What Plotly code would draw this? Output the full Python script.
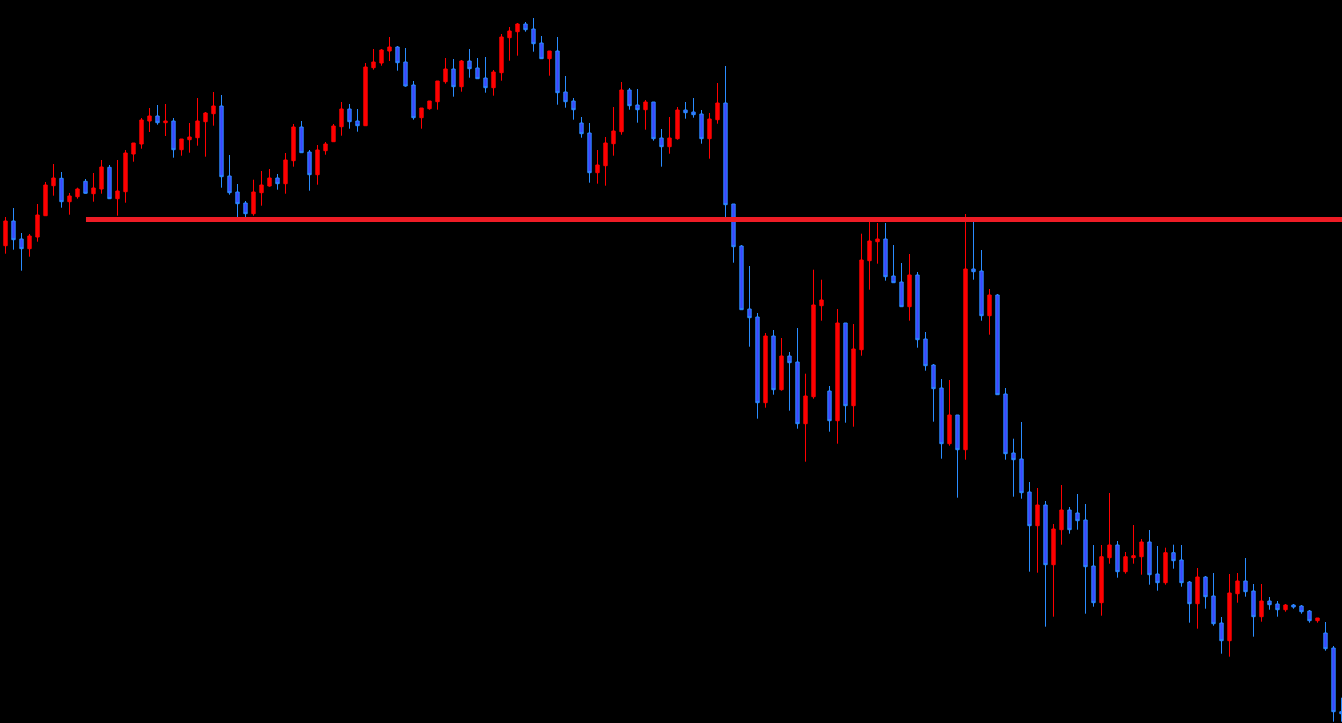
import plotly.graph_objects as go

# OHLC values (index = bar number)
opens = [754.3, 779, 761, 751.3, 763, 784.3, 814.3, 821.7, 798.3, 803.3,
         818.7, 806.3, 811, 832.7, 801.3, 808.3, 846, 856, 879, 884,
         877.3, 879, 850.3, 860.3, 862.3, 878.3, 886.3, 894, 824, 808,
         797, 786.3, 807.3, 814, 822, 816.3, 839.3, 873, 848, 825.3,
         849.3, 858.3, 873.3, 891, 879, 874.3, 932.3, 937, 949, 953,
         938, 915, 882.3, 891.3, 898.3, 918.3, 931, 913.3, 939, 932,
         922, 912.3, 927.3, 962.3, 968.3, 976, 971, 957, 941.3, 949,
         908, 899, 877, 867, 827.3, 834.3, 856.3, 868.3, 910, 895,
         890.3, 898, 862, 853.3, 861.3, 890, 888, 886, 861.3, 880.3,
         897, 796, 754, 691, 683, 597.3, 664, 610.3, 644, 638,
         576.3, 603.3, 694.3, 609, 579.3, 677, 594.3, 650.3, 739.3, 758.3,
         761, 724, 718, 693.3, 725, 661, 635, 612, 556.3, 585,
         550.3, 731, 729, 684.3, 705, 606, 547, 541, 508, 474.3,
         495, 435.3, 470.3, 490, 487, 480, 434, 397.3, 442.3, 455,
         428.3, 442.3, 443.3, 458, 426, 417.3, 447.3, 440, 418, 396.3,
         423, 404, 377, 359.3, 406.3, 419, 409, 383.3, 399, 396,
         390.3, 395, 394, 389, 379.3, 367, 352, 288.3]
highs = [783, 792, 767, 766, 796, 818, 836, 828, 807, 812.3,
         821, 827, 840, 835, 840, 850, 857, 882, 892, 895,
         896, 882, 861, 877, 902, 888, 908, 905, 845, 816,
         799, 820.3, 829, 831, 826, 847, 876, 879, 850, 855,
         858, 876, 898, 896, 891, 937, 951, 951, 963, 954,
         952, 919, 892, 899, 919, 942, 941, 940, 951, 942,
         943, 930, 966, 973, 977, 978, 982, 964, 949, 963,
         924, 902, 883, 877, 850, 863, 893, 918, 912, 911,
         900, 898, 871, 883, 893, 898, 902, 890, 887, 917,
         934, 796, 755, 734, 687, 667, 670, 662, 648, 672,
         626.3, 730.3, 720.3, 614, 691, 677, 676, 766.3, 778, 777,
         777, 755, 737, 746, 728, 668, 636, 621, 620, 585,
         786, 778, 750, 711, 706, 612, 561.3, 578, 518, 512,
         499, 476, 515, 493, 506, 496, 455, 455, 507, 459,
         448, 475, 461, 470, 454, 452.3, 455.3, 455, 419, 432,
         424, 427, 383, 426, 427, 442, 416, 416, 403, 399,
         396, 396, 395, 390, 382, 378, 354, 302.3]
lows = [746.3, 750.3, 729.3, 743.3, 758.3, 784.3, 804.3, 792.3, 785.3, 801.3,
        806.3, 798.3, 806.3, 801.3, 784.3, 797.3, 838.3, 851.3, 868, 875.3,
        864, 842.3, 844.3, 847.3, 854.3, 843.3, 874.3, 812.3, 805.3, 783,
        783, 784.3, 794.3, 813.3, 810.3, 806.3, 833.3, 847.3, 809.3, 815.3,
        845.3, 858.3, 864.3, 871.3, 868.3, 874.3, 930.3, 934.3, 939, 929.3,
        913.3, 880.3, 871.3, 890.3, 890.3, 916.3, 903.3, 908.3, 922.3, 921.3,
        907.3, 904.3, 919.3, 939.3, 944.3, 968.3, 948.3, 941.3, 924.3, 895.3,
        892.3, 880.3, 862.3, 817.3, 816.3, 814.3, 844.3, 865.3, 890.3, 877.3,
        870.3, 859.3, 833.3, 846.3, 860.3, 881.3, 882.3, 856.3, 841.3, 876.3,
        783, 737.3, 690.3, 653.3, 581.3, 592.3, 605.3, 609.3, 589.3, 571.3,
        538.3, 601.3, 679.3, 568.3, 556.3, 577.3, 573.3, 644.3, 710.3, 736.3,
        719.3, 717.3, 693.3, 679.3, 652.3, 629.3, 578.3, 541.3, 554.3, 502.3,
        540.3, 720.3, 679.3, 665.3, 605.3, 540.3, 503.3, 501.3, 428.3, 427.3,
        373.3, 383.3, 455.3, 466.3, 470.3, 386.3, 393.3, 384.3, 436.3, 422.3,
        426.3, 436.3, 425.3, 415.3, 409.3, 415.3, 431.3, 413.3, 377.3, 371.3,
        391.3, 374.3, 346.3, 343.3, 397.3, 403.3, 363.3, 378.3, 390.3, 383.3,
        388.3, 391.3, 386.3, 377.3, 377.3, 349.3, 278.3, 278.3]
closes = [779, 760.3, 751.3, 764, 785, 815, 822, 798.3, 804, 811,
          806.7, 812, 833, 801.3, 809, 847, 857, 880, 884, 877.3,
          879, 850.3, 861, 863, 879, 887, 894, 823.3, 807.3, 796.3,
          786.3, 808, 815, 822, 816.3, 840, 873, 847.3, 825.3, 850,
          856, 874, 891, 878.3, 874.3, 933, 938, 950, 953, 937.3,
          914, 882.3, 892, 899, 919, 931, 913.3, 939, 931.3, 921.3,
          912.3, 928, 963, 969, 976, 970.3, 956.3, 941.3, 949, 907.3,
          898.3, 890.3, 866.3, 827.3, 835, 857, 869, 910, 894.3, 890.3,
          898, 861.3, 853.3, 862, 890, 887.3, 885.3, 861.3, 881, 897,
          795.3, 753.3, 690.3, 682.3, 597.3, 664, 610.3, 644, 637.3, 576.3,
          604, 695, 700, 579.3, 677, 594.3, 651, 740, 759, 761,
          723.3, 717.3, 693.3, 725, 660.3, 634.3, 611.3, 556.3, 585, 550.3,
          731, 728.3, 684.3, 705, 605.3, 546.3, 540.3, 507.3, 474.3, 495,
          435.3, 471, 490, 470.3, 479.3, 433.3, 397.3, 443.3, 455, 428.3,
          443.3, 444.3, 458, 425.3, 417.3, 447.3, 439.3, 417.3, 396.3, 423,
          403.3, 376.3, 359.3, 407, 419, 408.3, 383.3, 399, 395.3, 390.3,
          395, 393, 388.3, 379.3, 382, 351.3, 288.3, 286.3]
bars = list(range(len(opens)))

support_level = 780.5
support_start = 10.06

fig = go.Figure()
fig.add_trace(go.Candlestick(
    x=bars, open=opens, high=highs, low=lows, close=closes,
    increasing=dict(line=dict(color="#ff0000", width=1), fillcolor="#ff0000"),
    decreasing=dict(line=dict(color="#2a8cff", width=1), fillcolor="#3d45ff"),
    whiskerwidth=0,
    showlegend=False,
    hoverinfo="skip",
))

fig.add_shape(type="line", xref="x", yref="y",
              x0=support_start, x1=bars[-1] + 2, y0=support_level, y1=support_level,
              line=dict(color="#ee1c25", width=5), layer="above")

fig.update_layout(
    width=1342, height=723,
    margin=dict(l=0, r=0, t=0, b=0),
    paper_bgcolor="#000000", plot_bgcolor="#000000",
    boxgap=0.4,
    showlegend=False,
    xaxis=dict(range=[-0.6875, 167.0625], visible=False, showgrid=False,
               zeroline=False, rangeslider=dict(visible=False), fixedrange=True),
    yaxis=dict(range=[277, 1000], visible=False, showgrid=False,
               zeroline=False, fixedrange=True),
)

fig.write_html(
    "out.html",
    config={"displayModeBar": False},
    post_script="document.body.style.margin='0';document.body.style.background='#000000';document.body.style.overflow='hidden';",
)
